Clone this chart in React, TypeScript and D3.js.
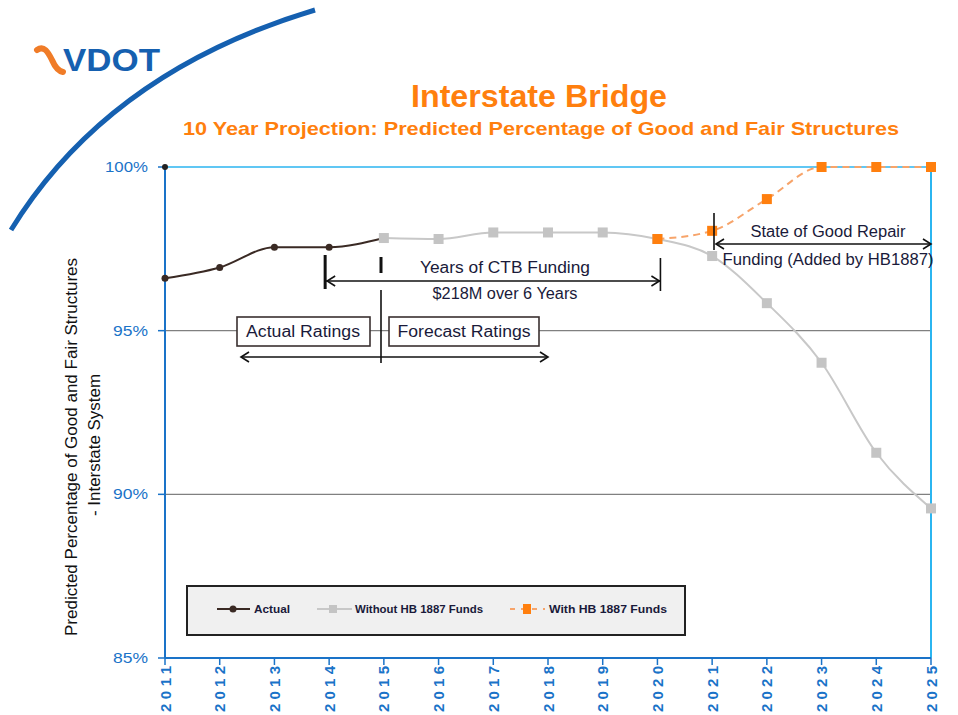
import React from "react";
import * as d3 from "d3";

const years = [2011, 2012, 2013, 2014, 2015, 2016, 2017, 2018, 2019, 2020, 2021, 2022, 2023, 2024, 2025];
const actualYears = [2011, 2012, 2013, 2014, 2015];
const actualValues = [96.6, 96.93, 97.55, 97.55, 97.83];
const withoutYears = [2015, 2016, 2017, 2018, 2019, 2020, 2021, 2022, 2023, 2024, 2025];
const withoutValues = [97.83, 97.8, 98.0, 98.0, 98.0, 97.8, 97.28, 95.84, 94.02, 91.27, 89.57];
const withYears = [2020, 2021, 2022, 2023, 2024, 2025];
const withValues = [97.8, 98.05, 99.02, 100, 100, 100];
const yTicks = [85, 90, 95, 100];

const W = 958, H = 715;
const left = 165, right = 931, top = 167, bottom = 658;
const FONT = "Liberation Sans, Arial, sans-serif";
const BLUE = "#1a73c8";
const LBLUE = "#2bb5f0";
const ORANGE = "#ff7f0e";
const INK = "#1a1a3a";

export default function App() {
  const x = d3.scaleLinear().domain([2011, 2025]).range([left, right]);
  const y = d3.scaleLinear().domain([85, 100]).range([bottom, top]);
  const line = d3.line<[number, number]>().x(d => x(d[0])).y(d => y(d[1])).curve(d3.curveMonotoneX);
  const actual = actualYears.map((yr, i) => [yr, actualValues[i]] as [number, number]);
  const without = withoutYears.map((yr, i) => [yr, withoutValues[i]] as [number, number]);
  const withF = withYears.map((yr, i) => [yr, withValues[i]] as [number, number]);

  const arrowHead = (px: number, py: number, dir: number) => (
    <path d={`M${px + dir * 8},${py - 5} L${px},${py} L${px + dir * 8},${py + 5}`} fill="none" stroke="#111" strokeWidth={1.6} />
  );
  const label = (cx: number, by: number, txt: string, len: number, size = 16) => (
    <text x={cx - len / 2} y={by} fontSize={size} fill={INK} textLength={len} lengthAdjust="spacingAndGlyphs">{txt}</text>
  );

  return (
    <svg width={W} height={H} style={{ position: "absolute", left: 0, top: 0, background: "#fff" }} fontFamily={FONT}>
      {/* decorative arc */}
      <path d="M11,230 Q108,72 315,10" fill="none" stroke="#1560b0" strokeWidth={5} />
      {/* logo */}
      <path d="M37,50 C44,45 48,52 52,60 C55,67 58,71 63,72" fill="none" stroke="#f07c28" strokeWidth={6} strokeLinecap="round" />
      <text x={63} y={71} fontSize={31} fontWeight="bold" fill="#1560b0" textLength={97} lengthAdjust="spacingAndGlyphs">VDOT</text>

      {/* titles */}
      <text x={411} y={107} fontSize={31} fontWeight="bold" fill={ORANGE} textLength={256} lengthAdjust="spacingAndGlyphs">Interstate Bridge</text>
      <text x={183} y={135} fontSize={19} fontWeight="bold" fill={ORANGE} textLength={716} lengthAdjust="spacingAndGlyphs">10 Year Projection: Predicted Percentage of Good and Fair Structures</text>

      {/* gridlines */}
      {[90, 95].map(v => (
        <line key={v} x1={left} x2={right} y1={y(v)} y2={y(v)} stroke="#808080" strokeWidth={1.2} />
      ))}
      {/* frame */}
      <line x1={left} x2={right} y1={top} y2={top} stroke={LBLUE} strokeWidth={1.5} />
      <line x1={right} x2={right} y1={top} y2={bottom} stroke={LBLUE} strokeWidth={2} />
      <line x1={left} x2={right} y1={bottom} y2={bottom} stroke={BLUE} strokeWidth={2} />
      <line x1={left} x2={left} y1={top} y2={bottom} stroke={BLUE} strokeWidth={2} />

      {/* y ticks */}
      {yTicks.map(v => {
        const len = v === 100 ? 43 : 35;
        return (
          <g key={v}>
            <line x1={left - 7} x2={left} y1={y(v)} y2={y(v)} stroke={BLUE} strokeWidth={1.5} />
            <text x={148 - len} y={y(v) + 5} fontSize={15} fill={BLUE} textLength={len} lengthAdjust="spacingAndGlyphs">{v}%</text>
          </g>
        );
      })}
      {/* x ticks */}
      {years.map(v => (
        <g key={v}>
          <line x1={x(v)} x2={x(v)} y1={bottom} y2={bottom + 7} stroke={BLUE} strokeWidth={1.5} />
          <text transform={`translate(${x(v) + 5.5},${712}) rotate(-90)`} fontSize={15} fontWeight="bold" fill={BLUE} textLength={46} lengthAdjust="spacing">{v}</text>
        </g>
      ))}

      {/* y axis title */}
      <text transform="translate(77,636) rotate(-90)" fontSize={16} fill="#111" textLength={378} lengthAdjust="spacingAndGlyphs">Predicted Percentage of Good and Fair Structures</text>
      <text transform="translate(100,516) rotate(-90)" fontSize={16} fill="#111" textLength={142} lengthAdjust="spacingAndGlyphs">- Interstate System</text>

      {/* corner marker */}
      <circle cx={x(2011)} cy={y(100)} r={3} fill="#222" />

      {/* series */}
      <path d={line(without) || ""} fill="none" stroke="#c8c8c8" strokeWidth={2} />
      <path d={line(actual) || ""} fill="none" stroke="#3a2a24" strokeWidth={2} />
      {actual.map((d, i) => (
        <circle key={i} cx={x(d[0])} cy={y(d[1])} r={3.5} fill="#3a2a24" />
      ))}
      {without.map((d, i) => (
        <rect key={i} x={x(d[0]) - 5} y={y(d[1]) - 5} width={10} height={10} fill="#c4c4c4" />
      ))}
      <path d={line(withF) || ""} fill="none" stroke="#f7a46a" strokeWidth={2} strokeDasharray="7,5" />
      {withF.map((d, i) => (
        <rect key={i} x={x(d[0]) - 5} y={y(d[1]) - 5} width={10} height={10} fill={ORANGE} />
      ))}

      {/* CTB funding annotation */}
      <line x1={x(2014) - 4} x2={x(2014) - 4} y1={255} y2={289} stroke="#111" strokeWidth={3} />
      <line x1={381} x2={381} y1={257} y2={273} stroke="#111" strokeWidth={3} />
      <line x1={x(2014) - 3} x2={x(2020) + 3} y1={281} y2={281} stroke="#111" strokeWidth={1.6} />
      {arrowHead(x(2014) - 2, 281, 1)}
      {arrowHead(x(2020) + 2, 281, -1)}
      <line x1={x(2020) + 3} x2={x(2020) + 3} y1={258} y2={291} stroke="#111" strokeWidth={1.6} />
      {label(505, 273, "Years  of  CTB  Funding", 170)}
      {label(505, 299, "$218M  over 6 Years", 145)}

      {/* actual / forecast divider */}
      <line x1={381} x2={381} y1={290} y2={363} stroke="#111" strokeWidth={1.6} />
      <rect x={237} y={317} width={133} height={29} fill="#fff" stroke="#3a3030" strokeWidth={1.6} />
      {label(303, 337, "Actual  Ratings", 114)}
      <rect x={389} y={317} width={150} height={29} fill="#fff" stroke="#3a3030" strokeWidth={1.6} />
      {label(464, 337, "Forecast  Ratings", 133)}
      <line x1={242} x2={547} y1={357} y2={357} stroke="#111" strokeWidth={1.6} />
      {arrowHead(241, 357, 1)}
      {arrowHead(548, 357, -1)}

      {/* State of good repair */}
      <line x1={714} x2={714} y1={213} y2={250} stroke="#111" strokeWidth={1.6} />
      <line x1={716} x2={930} y1={244} y2={244} stroke="#111" strokeWidth={1.6} />
      {arrowHead(716, 244, 1)}
      {arrowHead(931, 244, -1)}
      {label(828, 237, "State of Good Repair", 155)}
      {label(828, 265, "Funding (Added by HB1887)", 211)}

      {/* legend */}
      <rect x={187} y={586} width={498} height={49} fill="#f0f0f0" stroke="#222" strokeWidth={2} />
      <line x1={217} x2={250} y1={609} y2={609} stroke="#3a2a24" strokeWidth={2} />
      <circle cx={233} cy={609} r={3.5} fill="#3a2a24" />
      <text x={254} y={613} fontSize={10} fontWeight="bold" fill={INK} textLength={36} lengthAdjust="spacingAndGlyphs">Actual</text>
      <line x1={317} x2={352} y1={609} y2={609} stroke="#c8c8c8" strokeWidth={2} />
      <rect x={329} y={605} width={8} height={8} fill="#c4c4c4" />
      <text x={355} y={613} fontSize={10} fontWeight="bold" fill={INK} textLength={128} lengthAdjust="spacingAndGlyphs">Without HB 1887 Funds</text>
      <line x1={510} x2={545} y1={609} y2={609} stroke="#f7a46a" strokeWidth={2} strokeDasharray="5,6" />
      <rect x={523} y={604} width={8} height={10} fill={ORANGE} />
      <text x={549} y={613} fontSize={10} fontWeight="bold" fill={INK} textLength={118} lengthAdjust="spacingAndGlyphs">With HB 1887 Funds</text>
    </svg>
  );
}
